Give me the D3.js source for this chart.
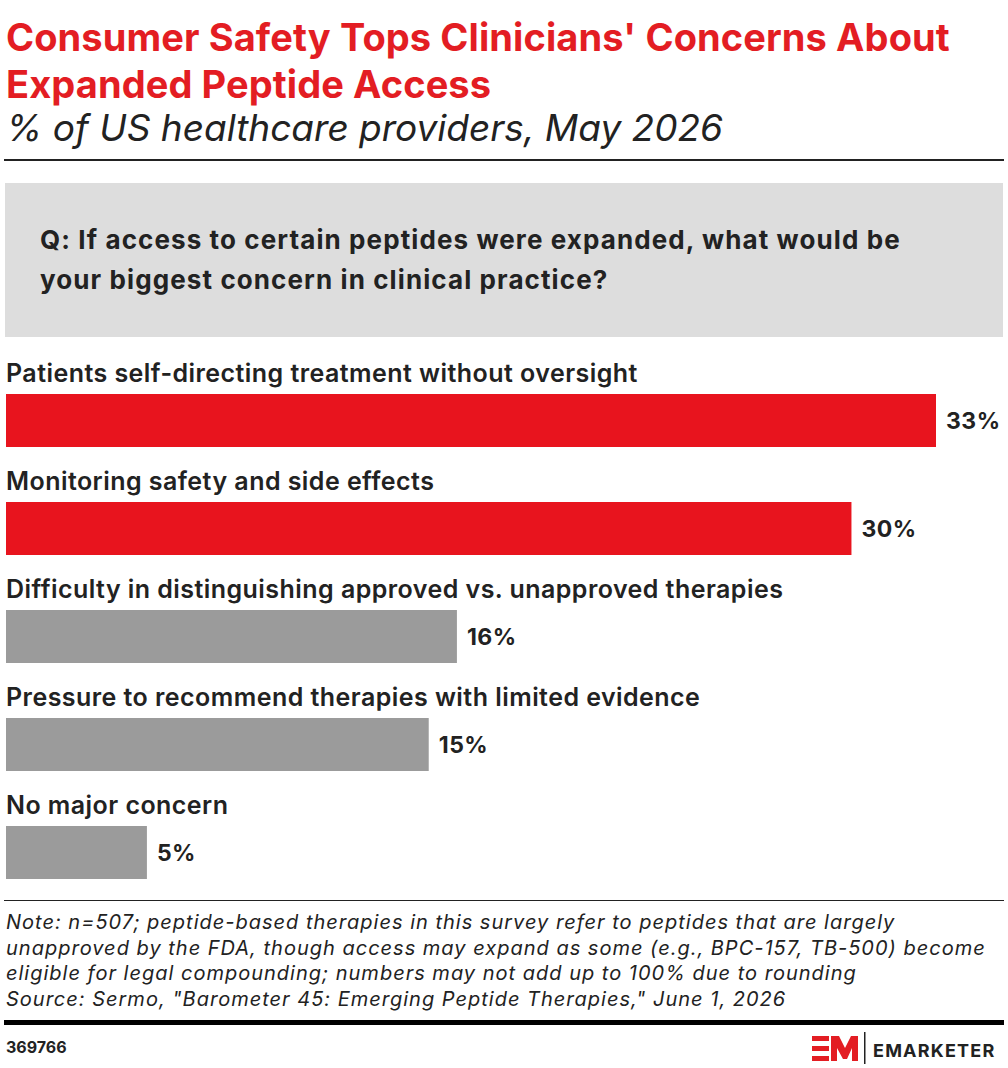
<!DOCTYPE html>
<html><head><meta charset="utf-8">
<script src="https://cdn.jsdelivr.net/npm/d3@7"></script>
<style>body{margin:0;background:#fff}svg{font-family:Inter,"Noto Sans",sans-serif}</style>
</head><body><svg id="canvas" width="1008" height="1068"></svg>
<script>
var categories = ["Patients self-directing treatment without oversight","Monitoring safety and side effects","Difficulty in distinguishing approved vs. unapproved therapies","Pressure to recommend therapies with limited evidence","No major concern"];
var values = [33,30,16,15,5];
var barColors = ["#e8141e","#e8141e","#9b9b9b","#9b9b9b","#9b9b9b"];
var noteLines = ["Note: n=507; peptide-based therapies in this survey refer to peptides that are largely","unapproved by the FDA, though access may expand as some (e.g., BPC-157, TB-500) become","eligible for legal compounding; numbers may not add up to 100% due to rounding","Source: Sermo, \"Barometer 45: Emerging Peptide Therapies,\" June 1, 2026"];

var svg = d3.select('#canvas');
var red = "#e31d23";

// title block
[["Consumer Safety Tops Clinicians' Concerns About",51],["Expanded Peptide Access",98]].forEach(function(t){
  svg.append('text').attr('x',6).attr('y',t[1]).attr('fill',red).attr('font-size',38).attr('font-weight',700).attr('letter-spacing',0.1).text(t[0]);
});
svg.append('text').attr('x',6).attr('y',141).attr('font-size',37).attr('font-style','italic').attr('fill','#222').text('% of US healthcare providers, May 2026');
svg.append('rect').attr('x',4).attr('y',159).attr('width',1000).attr('height',2).attr('fill','#222');

// question box
svg.append('rect').attr('x',5).attr('y',183).attr('width',998).attr('height',154).attr('fill','#dddddd');
["Q: If access to certain peptides were expanded, what would be","your biggest concern in clinical practice?"].forEach(function(t,i){
  svg.append('text').attr('x',40).attr('y',249+i*40).attr('font-size',26).attr('font-weight',700).attr('letter-spacing',1.1).attr('fill','#222').text(t);
});

// bars
var x = d3.scaleLinear().domain([0,33]).range([0,930]);
var y = d3.scaleBand().domain(categories).range([367,907]).paddingInner(0).paddingOuter(0);
var g = svg.append('g').attr('transform','translate(6,0)');
var row = g.selectAll('g.row').data(categories).enter().append('g').attr('class','row')
  .attr('transform',function(d){return 'translate(0,'+y(d)+')';});
row.append('text').attr('x',0).attr('y',15).attr('font-size',25).attr('font-weight',600).attr('letter-spacing',0.45).attr('fill','#222').text(function(d){return d;});
row.append('rect').attr('x',0).attr('y',27).attr('height',53)
  .attr('width',function(d,i){return x(values[i]);}).attr('fill',function(d,i){return barColors[i];});
row.append('text').attr('x',function(d,i){return x(values[i])+10;}).attr('y',62)
  .attr('font-size',23).attr('font-weight',700).attr('letter-spacing',0.5).attr('fill','#222').text(function(d,i){return values[i]+'%';});

// notes
svg.append('rect').attr('x',4).attr('y',900).attr('width',1000).attr('height',1).attr('fill','#222');
noteLines.forEach(function(t,i){
  svg.append('text').attr('x',6).attr('y',929+i*25.5).attr('font-size',20).attr('font-style','italic').attr('letter-spacing',1.0).attr('fill','#222').text(t);
});
svg.append('rect').attr('x',4).attr('y',1020).attr('width',1000).attr('height',5).attr('fill','#000');
svg.append('text').attr('x',6).attr('y',1053).attr('font-size',16).attr('font-weight',700).attr('fill','#222').text('369766');

// logo
var lg = svg.append('g').attr('transform','translate(812,1036)');
lg.append('rect').attr('x',0).attr('y',0).attr('width',17).attr('height',5).attr('fill',red);
lg.append('rect').attr('x',0).attr('y',10).attr('width',17).attr('height',5).attr('fill',red);
lg.append('rect').attr('x',0).attr('y',20).attr('width',17).attr('height',5).attr('fill',red);
lg.append('path').attr('d','M19,25 L19,0 L27,0 L33,12 L39,0 L46,0 L46,25 L40,25 L40,12 L35,23 L31,23 L25,12 L25,25 Z').attr('fill',red);
lg.append('rect').attr('x',52).attr('y',-4).attr('width',1.5).attr('height',32).attr('fill','#222');
lg.append('text').attr('x',61).attr('y',21).attr('font-size',18).attr('font-weight',700).attr('letter-spacing',1.2).attr('fill','#222').text('EMARKETER');
</script></body></html>
